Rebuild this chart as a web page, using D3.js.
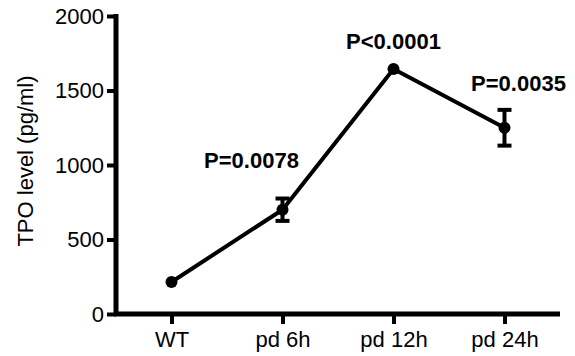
<!DOCTYPE html>
<html lang="en">
<head>
    <meta charset="UTF-8">
    <script src="https://d3js.org/d3.v7.min.js"></script>
    <style>
        body { margin: 0; background: #fff; }
        text { font-family: "Liberation Sans", Arial, sans-serif; fill: #000; }
        .tick-label { font-size: 22px; }
        .p-label { font-size: 22px; font-weight: bold; }
    </style>
    <title>TPO level</title>
</head>
<body>
    <div id="chart"></div>
    <script>
        // Data
        const categories = ["WT", "pd 6h", "pd 12h", "pd 24h"];
        const means = [215, 700, 1645, 1250];
        const errors = [0, 75, 0, 120];
        const pLabels = ["", "P=0.0078", "P<0.0001", "P=0.0035"];
        const yTicks = [0, 500, 1000, 1500, 2000];
        const yTitle = "TPO level (pg/ml)";

        // label nudges (layout only)
        const labelDx = [0, -31, 0, 14];
        const labelDy = [0, -31, -20, -19];

        const width = 575, height = 356;
        const svg = d3.select("#chart").append("svg")
            .attr("width", width)
            .attr("height", height);

        const x = d3.scalePoint()
            .domain(categories)
            .range([116, 560])
            .padding(0.5);

        const y = d3.scaleLinear()
            .domain([0, 2000])
            .range([314, 16]);

        // Y axis
        const yAxis = svg.append("g")
            .attr("transform", "translate(116,0)")
            .call(d3.axisLeft(y).tickValues(yTicks).tickFormat(d3.format("d"))
                .tickSize(9).tickPadding(3).tickSizeOuter(0));
        yAxis.select(".domain").attr("stroke-width", 5).attr("stroke", "#000")
            .attr("d", `M0,${y(2000) - 2}V${y(0) + 2}`);
        yAxis.selectAll(".tick line").attr("stroke-width", 4);
        yAxis.selectAll(".tick text").attr("class", "tick-label").attr("font-size", null).attr("font-family", null);

        // X axis
        const xAxis = svg.append("g")
            .attr("transform", `translate(0,${y(0)})`)
            .call(d3.axisBottom(x).tickSize(10).tickPadding(7).tickSizeOuter(0));
        xAxis.select(".domain").attr("stroke-width", 5).attr("stroke", "#000")
            .attr("d", "M114,0H560");
        xAxis.selectAll(".tick line").attr("stroke-width", 4);
        xAxis.selectAll(".tick text").attr("class", "tick-label").attr("font-size", null).attr("font-family", null);

        // Y title
        svg.append("text")
            .attr("class", "tick-label")
            .attr("transform", "translate(33,161) rotate(-90)")
            .attr("text-anchor", "middle")
            .text(yTitle);

        const rows = categories.map((c, i) => ({ c, m: means[i], e: errors[i], p: pLabels[i], i }));

        // Connecting line
        svg.append("path")
            .datum(rows)
            .attr("fill", "none")
            .attr("stroke", "#000")
            .attr("stroke-width", 4)
            .attr("stroke-linejoin", "round")
            .attr("d", d3.line().x(d => x(d.c)).y(d => y(d.m)));

        // Error bars (only where the SEM is visible)
        const eb = svg.append("g").selectAll("g").data(rows.filter(d => d.e > 0)).join("g");
        eb.append("line")
            .attr("x1", d => x(d.c)).attr("x2", d => x(d.c))
            .attr("y1", d => y(d.m - d.e)).attr("y2", d => y(d.m + d.e))
            .attr("stroke", "#000").attr("stroke-width", 4);
        eb.selectAll(".cap").data(d => [[d.c, d.m - d.e], [d.c, d.m + d.e]]).join("line")
            .attr("class", "cap")
            .attr("x1", d => x(d[0]) - 7).attr("x2", d => x(d[0]) + 7)
            .attr("y1", d => y(d[1])).attr("y2", d => y(d[1]))
            .attr("stroke", "#000").attr("stroke-width", 4);

        // Points
        svg.append("g").selectAll("circle").data(rows).join("circle")
            .attr("cx", d => x(d.c))
            .attr("cy", d => y(d.m))
            .attr("r", 6)
            .attr("fill", "#000");

        // P-value labels
        svg.append("g").selectAll("text").data(rows.filter(d => d.p)).join("text")
            .attr("class", "p-label")
            .attr("text-anchor", "middle")
            .attr("x", d => x(d.c) + labelDx[d.i])
            .attr("y", d => y(d.m + d.e) + labelDy[d.i])
            .text(d => d.p);
    </script>
</body>
</html>
